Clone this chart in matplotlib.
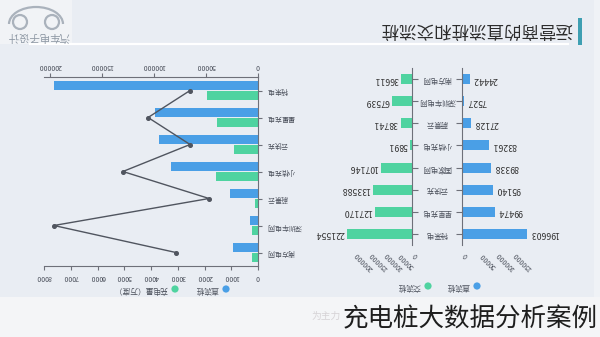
import numpy as np
import matplotlib
matplotlib.use('Agg')
import matplotlib.pyplot as plt
from matplotlib.patches import Rectangle, Circle, Arc

plt.rcParams['font.family'] = ['Noto Sans CJK SC', 'DejaVu Sans']

W, H = 600, 337

# 右图：运营商的直流桩和交流桩（图中从上到下）
operators = ['南方电网', '深圳车电网', '蔚景云', '小桔充电', '国家电网', '云快充', '星星充电', '特来电']
dc_piles = [24442, 7527, 27128, 83261, 89338, 95140, 99474, 196603]
ac_piles = [36611, 67539, 38741, 5891, 107146, 133588, 127170, 221554]
ac_ticks = [0, 50000, 100000, 150000, 200000]
dc_ticks = [0, 50000, 100000, 150000]

# 左图：直流桩 + 充电量（万度）
ops_left = ['特来电', '星星充电', '云快充', '小桔充电', '蔚景云', '深圳车电网', '南方电网']
dc_left = [196603, 99474, 95140, 83261, 27128, 7527, 24442]
energy_left = [1900, 1530, 900, 1570, 130, 220, 230]
line_left = [2540, 4110, 2540, 5050, 1830, 7630, 3070]
top_ticks = [0, 50000, 100000, 150000, 200000]
bottom_ticks = [0, 1000, 2000, 3000, 4000, 5000, 6000, 7000, 8000]

BLUE = '#4a9fe6'
GREEN = '#4fd3a0'
AXIS = '#6e7079'
TXT = '#4a4f5a'


def px_axes(x0, y0, x1, y1):
    return fig.add_axes([x0 / W, 1 - y1 / H, (x1 - x0) / W, (y1 - y0) / H])


fig = plt.figure(figsize=(6, 3.37), dpi=100, facecolor='#e9edf3')

# background / decoration layer, pixel coordinates
bg = px_axes(0, 0, W, H)
bg.set_xlim(0, W)
bg.set_ylim(H, 0)
bg.axis('off')
bg.add_patch(Rectangle((0, 297), W, 40, color='#f4f5f7', lw=0))
bg.add_patch(Rectangle((594, 0), 6, 297, color='#eff2f6', lw=0))
bg.add_patch(Rectangle((0, 0), 72, 44, color='#f1f3f6', lw=0))
bg.plot([30, 568], [44, 44], color='white', lw=1.6)
bg.add_patch(Arc((36, 24), 54, 34, theta1=180, theta2=360, color='#aab2bc', lw=1.6))
bg.add_patch(Circle((20, 22), 7, fill=False, ec='#aab2bc', lw=1.6))
bg.add_patch(Circle((52, 22), 7, fill=False, ec='#aab2bc', lw=1.6))
bg.text(38, 36, '汽车电子设计', rotation=180, ha='center', va='center', fontsize=7.5, color='#8e98a4')
bg.add_patch(Rectangle((578, 18), 4, 27, color='#3e9fb2', lw=0))
bg.text(572, 29, '运营商的直流桩和交流桩', rotation=180, ha='right', va='center', fontsize=12.6, color='#2b2b2b')

# legends
for cx, cy, col, label in [(477, 286, BLUE, '直流桩'), (428, 286, GREEN, '交流桩'),
                           (226, 289, BLUE, '直流桩'), (175, 289, GREEN, '充电量（万度）')]:
    bg.add_patch(Circle((cx, cy), 3.6, color=col, lw=0))
    bg.text(cx - 7, cy, label, rotation=180, ha='right', va='center', fontsize=5.6, color=TXT)

bg.text(341, 316, '为主力', ha='right', va='center', fontsize=7, color='#d6d3d6')
bg.text(343, 319, '充电桩大数据分析案例', ha='left', va='center', fontsize=18.4, color='#1e1e1e')

# ---- left chart ----
ax = px_axes(44, 77, 258, 266)
ax2 = ax.twiny()
ax.set_zorder(ax2.get_zorder() + 1)
ax.patch.set_visible(False)
y = np.arange(len(ops_left))
ax2.barh(y - 0.18, dc_left, height=0.34, color=BLUE)
ax.barh(y + 0.18, energy_left, height=0.34, color=GREEN)
ax.plot(line_left, y, color='#50555f', lw=1, marker='o', ms=2.6)
ax.set_xlim(8000, 0)
ax2.set_xlim(200000 * 214 / 208, 0)
ax.set_ylim(len(ops_left) - 0.5, -0.5)

for s in ['left', 'top']:
    ax.spines[s].set_visible(False)
for s in ['left', 'right', 'bottom']:
    ax2.spines[s].set_visible(False)
for s in ['right', 'bottom']:
    ax.spines[s].set_color(AXIS)
ax2.spines['top'].set_color(AXIS)

ax.yaxis.tick_right()
ax.set_yticks(y, ops_left, rotation=180, rotation_mode='default', ha='left', va='center')
ax.tick_params(axis='y', length=3, color=AXIS, labelsize=5, labelcolor=TXT, pad=3)
ax.set_xticks(bottom_ticks, [str(t) for t in bottom_ticks], rotation=180, rotation_mode='default', ha='center')
ax.tick_params(axis='x', length=3, color=AXIS, labelsize=5, labelcolor=TXT, pad=2)
ax2.set_xticks(top_ticks, [str(t) for t in top_ticks], rotation=180, rotation_mode='default', ha='center')
ax2.tick_params(axis='x', length=3, color=AXIS, labelsize=5, labelcolor=TXT, pad=2)

# ---- right chart ----
axl = px_axes(338.65, 68, 412, 245)
axr = px_axes(462, 68, 528, 245)
yr = np.arange(len(operators))
axl.barh(yr, ac_piles, height=0.45, color=GREEN)
axr.barh(yr, dc_piles, height=0.45, color=BLUE)
axl.set_xlim(250000, 0)
axr.set_xlim(0, 200000)
for a in (axl, axr):
    a.set_ylim(len(operators) - 0.5, -0.5)
    a.patch.set_visible(False)
    for s in a.spines.values():
        s.set_visible(False)
axl.spines['right'].set_visible(True)
axl.spines['right'].set_color(AXIS)
axr.spines['left'].set_visible(True)
axr.spines['left'].set_color(AXIS)

axl.yaxis.tick_right()
axl.set_yticks(yr, [])
axr.set_yticks(yr, [])
axl.tick_params(axis='y', length=4, color=AXIS)
axr.tick_params(axis='y', length=4, color=AXIS)

axl.set_xticks(ac_ticks, [str(t) for t in ac_ticks], rotation=135, rotation_mode='default', ha='left', va='top')
axr.set_xticks(dc_ticks, [str(t) for t in dc_ticks], rotation=135, rotation_mode='default', ha='left', va='top')
for a in (axl, axr):
    a.tick_params(axis='x', length=0, labelsize=5, labelcolor=TXT, pad=4)

for i, v in enumerate(ac_piles):
    axl.annotate(str(v), (v, i), xytext=(-2, 0), textcoords='offset points', rotation=180,
                 ha='right', va='center', fontsize=6.3, color='#333333', annotation_clip=False)
for i, v in enumerate(dc_piles):
    axr.annotate(str(v), (v, i), xytext=(2, 0), textcoords='offset points', rotation=180,
                 ha='left', va='center', fontsize=6.3, color='#333333', annotation_clip=False)
for i, name in enumerate(operators):
    axl.annotate(name, (0, i), xytext=(18, 0), textcoords='offset points', rotation=180,
                 ha='center', va='center', fontsize=5.3, color=TXT, annotation_clip=False)

fig.savefig('out.png', dpi=100, facecolor=fig.get_facecolor())
